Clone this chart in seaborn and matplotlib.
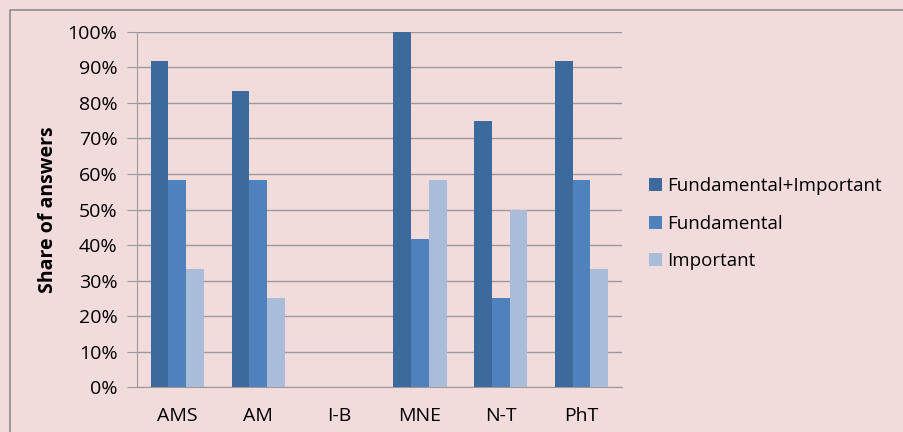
import pandas as pd
import numpy as np
import matplotlib
matplotlib.use("Agg")
import matplotlib.pyplot as plt
import seaborn as sns
from matplotlib.patches import Rectangle
from matplotlib.ticker import PercentFormatter

categories = ["AMS", "AM", "I-B", "MNE", "N-T", "PhT"]
fund_imp = [91.7, 83.3, 0, 100, 75, 91.7]
fundamental = [58.3, 58.3, 0, 41.7, 25, 58.3]
important = [33.3, 25, 0, 58.3, 50, 33.3]
series = ["Fundamental+Important", "Fundamental", "Important"]
colors = ["#3D6A9C", "#4F81BD", "#A9BCD9"]
bg = "#F2DCDB"

df = pd.DataFrame({"cat": categories, series[0]: fund_imp,
                   series[1]: fundamental, series[2]: important})
long = df.melt(id_vars="cat", var_name="series", value_name="share")

sns.set_style("white")
plt.rcParams["font.family"] = ["Open Sans", "DejaVu Sans"]
plt.rcParams["text.color"] = "black"
plt.rcParams["axes.labelcolor"] = "black"
plt.rcParams["xtick.color"] = "black"
plt.rcParams["ytick.color"] = "black"
fs = 14

fig = plt.figure(figsize=(9.04, 4.32), dpi=100, facecolor=bg)
ax = fig.add_axes([0.1515, 0.104, 0.5365, 0.822])
ax.set_facecolor(bg)

sns.barplot(data=long, x="cat", y="share", hue="series", hue_order=series,
            palette=colors, width=0.66, saturation=1, linewidth=0,
            ax=ax, zorder=3)

ax.set_ylim(0, 100)
ax.set_yticks(np.arange(0, 101, 10))
ax.yaxis.set_major_formatter(PercentFormatter(decimals=0))
ax.grid(axis="y", color="#9A9A9A", linewidth=1, zorder=0)
ax.set_axisbelow(True)
for s in ["top", "right"]:
    ax.spines[s].set_visible(False)
ax.spines["left"].set_color("#9A9A9A")
ax.spines["bottom"].set_color("#9A9A9A")
ax.tick_params(axis="y", length=7, color="#9A9A9A", labelsize=fs, pad=7, left=True)
ax.tick_params(axis="x", length=0, labelsize=fs, pad=14)
ax.set_xlabel("")
ax.set_ylabel("Share of answers", fontsize=fs, fontweight="bold", labelpad=7)

ax.legend(loc="center left", bbox_to_anchor=(1.02, 0.46), frameon=False,
          fontsize=13.5, handlelength=0.7, handleheight=0.7, handletextpad=0.3,
          labelspacing=1.05)

fig.patches.append(Rectangle((10 / 904, -0.1), 1.2, (432 - 10) / 432 + 0.1,
                             transform=fig.transFigure, fill=False,
                             edgecolor="#8C8C8C", linewidth=1.2))

fig.savefig("out.png", dpi=100, facecolor=bg)
